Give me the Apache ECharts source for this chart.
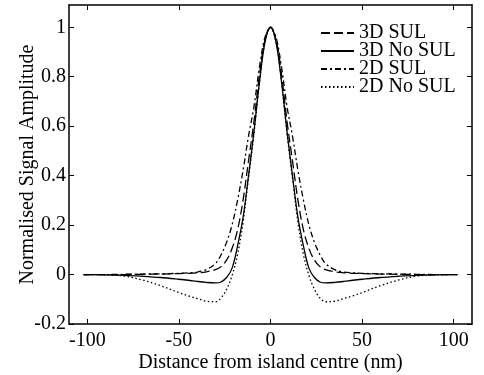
<!DOCTYPE html>
<html>
<head>
<meta charset="utf-8">
<script src="https://cdn.jsdelivr.net/npm/echarts@6/dist/echarts.min.js"></script>
<style>html,body{margin:0;padding:0;background:#fff;}#c{width:484px;height:375px;}</style>
</head>
<body>
<div id="c"></div>
<script>
var xs = [-102,-90,-80,-70,-60,-50,-45,-40,-35,-30,-27,-24,-21,-18,-15,-12,-9,-6,-3,0,3,6,9,12,15,18,21,24,27,30,35,40,45,50,60,70,80,90,102];
var sul3d   = [0,0,0,0.001,0.002,0.004,0.005,0.007,0.011,0.02,0.032,0.058,0.105,0.18,0.30,0.46,0.62,0.81,0.95,1,0.95,0.81,0.62,0.46,0.30,0.18,0.105,0.058,0.032,0.02,0.011,0.007,0.005,0.004,0.002,0.001,0,0,0];
var nosul3d = [0,-0.001,-0.003,-0.007,-0.012,-0.019,-0.023,-0.028,-0.032,-0.034,-0.03,-0.012,0.025,0.115,0.23,0.40,0.58,0.78,0.94,1,0.94,0.78,0.58,0.40,0.23,0.115,0.025,-0.012,-0.03,-0.034,-0.032,-0.028,-0.023,-0.019,-0.012,-0.007,-0.003,-0.001,0];
var sul2d   = [0,0,0.001,0.002,0.003,0.005,0.007,0.01,0.02,0.045,0.08,0.13,0.20,0.30,0.42,0.56,0.68,0.84,0.96,1,0.96,0.84,0.68,0.56,0.42,0.30,0.20,0.13,0.08,0.045,0.02,0.01,0.007,0.005,0.003,0.002,0.001,0,0];
var nosul2d = [0,-0.001,-0.006,-0.022,-0.045,-0.073,-0.086,-0.097,-0.108,-0.11,-0.095,-0.06,-0.005,0.08,0.21,0.39,0.57,0.78,0.94,1,0.94,0.78,0.57,0.39,0.21,0.08,-0.005,-0.06,-0.095,-0.11,-0.108,-0.097,-0.086,-0.073,-0.045,-0.022,-0.006,-0.001,0];
var xTicks = [-100,-50,0,50,100];
var yTicks = [-0.2,0,0.2,0.4,0.6,0.8,1];
var seriesNames = ['3D SUL','3D No SUL','2D SUL','2D No SUL'];

function pairs(ys){ return xs.map(function(x,i){ return [x, ys[i]]; }); }
var font = 'Liberation Serif';
var chart = echarts.init(document.getElementById('c'));
var axisLine = {show:true, onZero:false, lineStyle:{color:'#000', width:1.5}};
function mk(name, ys, type){
  return {name:name, type:'line', data:pairs(ys), showSymbol:false, symbol:'none', smooth:0.35,
    lineStyle:{color:'#000', width:1.3, type:type}, itemStyle:{color:'#000'}, animation:false, xAxisIndex:0, yAxisIndex:0};
}
chart.setOption({
  animation:false,
  grid:{left:69, right:12, top:5, bottom:51, outerBoundsMode:'none', containLabel:false},
  legend:{orient:'vertical', left:315, top:18, itemWidth:33, itemHeight:14, itemGap:-2,
    itemStyle:{opacity:0},
    textStyle:{fontFamily:font, fontSize:20, color:'#000', lineHeight:18.3},
    data:seriesNames
  },
  xAxis:[{type:'value', min:-110, max:110, position:'bottom',
      name:'Distance from island centre (nm)', nameLocation:'middle', nameGap:29, nameMoveOverlap:false,
      nameTextStyle:{fontFamily:font, fontSize:20, color:'#000'},
      axisLine:axisLine, splitLine:{show:false},
      axisTick:{show:true, inside:true, length:5, customValues:xTicks, lineStyle:{color:'#000'}},
      axisLabel:{fontFamily:font, fontSize:20, color:'#000', margin:7, customValues:xTicks}},
    {type:'value', min:-110, max:110, position:'top',
      axisLine:axisLine, splitLine:{show:false},
      axisTick:{show:true, inside:true, length:5, customValues:xTicks, lineStyle:{color:'#000'}},
      axisLabel:{show:false}}],
  yAxis:[{type:'value', min:-0.2, max:1.09, position:'left',
      name:'Normalised Signal Amplitude', nameLocation:'middle', nameGap:31, nameMoveOverlap:false,
      nameTextStyle:{fontFamily:font, fontSize:20, color:'#000'},
      axisLine:axisLine, splitLine:{show:false},
      axisTick:{show:true, inside:true, length:5, customValues:yTicks, lineStyle:{color:'#000'}},
      axisLabel:{fontFamily:font, fontSize:20, color:'#000', margin:3, customValues:yTicks,
        formatter:function(v){ return String(Math.round(v*10)/10); }}},
    {type:'value', min:-0.2, max:1.09, position:'right',
      axisLine:axisLine, splitLine:{show:false},
      axisTick:{show:true, inside:true, length:5, customValues:yTicks, lineStyle:{color:'#000'}},
      axisLabel:{show:false}}],
  series:[
    mk('3D SUL', sul3d, [9,4]),
    mk('3D No SUL', nosul3d, 'solid'),
    mk('2D SUL', sul2d, [6,3,2,3]),
    mk('2D No SUL', nosul2d, [1.5,2.5])
  ]
});
</script>
</body>
</html>
